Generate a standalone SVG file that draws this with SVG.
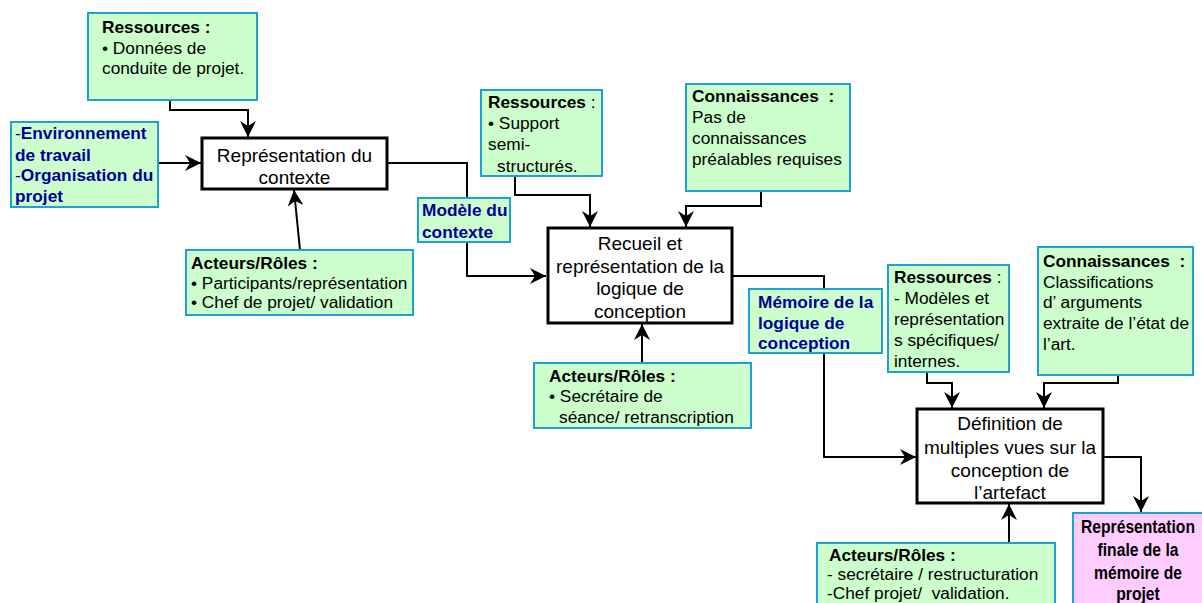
<svg xmlns="http://www.w3.org/2000/svg" width="1202" height="603" viewBox="0 0 1202 603">
  <style>
    .note { fill: #ccffcc; stroke: #1f9fd2; stroke-width: 2; }
    .pink { fill: #ffccff; stroke: #1f9fd2; stroke-width: 2; }
    .proc { fill: #ffffff; stroke: #000000; stroke-width: 3; }
    .t { font-family: "Liberation Sans", Arial, sans-serif; font-size: 17.3px; fill: #000000; }
    .p { font-family: "Liberation Sans", Arial, sans-serif; font-size: 19px; fill: #000000; text-anchor: middle; }
    .b { font-weight: bold; }
    .blue { fill: #000099; }
    .narrow { font-family: "Liberation Sans", Arial, sans-serif; font-size: 18px; font-weight: bold; text-anchor: middle; fill: #000000; }
    .link { fill: none; stroke: #000000; stroke-width: 2; marker-end: url(#arrow); }
  </style>
  <defs>
    <marker id="arrow" markerUnits="userSpaceOnUse" markerWidth="18" markerHeight="16" refX="16" refY="8" orient="auto">
      <path d="M0,0 L16,8 L0,16 L5,8 z" fill="#000000"/>
    </marker>
  </defs>

  <rect width="1202" height="603" fill="#ffffff"/>

  <!-- connectors (drawn first so boxes sit on top) -->
  <g id="connectors">
    <polyline class="link" points="170,100 170,110 248,110 248,137"/>
    <polyline class="link" points="158,163 201,163"/>
    <polyline class="link" points="300,250 294,190"/>
    <polyline class="link" points="387,163 467,163 467,276 546,276"/>
    <polyline class="link" points="515,176 515,195 590,195 590,227"/>
    <polyline class="link" points="761,191 761,206 686,206 686,227"/>
    <polyline class="link" points="642,363 642,324"/>
    <polyline class="link" points="732,276 824,276 824,457 916,457"/>
    <polyline class="link" points="927,372 927,383 952,383 952,408"/>
    <polyline class="link" points="1118,375 1118,383 1044,383 1044,408"/>
    <polyline class="link" points="1009,543 1009,504"/>
    <polyline class="link" points="1103,457 1141,457 1141,512"/>
  </g>

  <g id="ressources-1">
    <rect class="note" x="88" y="13" width="169" height="87"/>
    <text class="t" x="102" y="33"><tspan class="b">Ressources :</tspan></text>
    <text class="t" x="102" y="54">• Données de</text>
    <text class="t" x="102" y="74">conduite de projet.</text>
  </g>

  <g id="environnement">
    <rect class="note" x="11" y="122" width="147" height="85"/>
    <text class="t blue" x="15" y="139">-<tspan class="b">Environnement</tspan></text>
    <text class="t blue b" x="15" y="161">de travail</text>
    <text class="t blue" x="15" y="181">-<tspan class="b">Organisation du</tspan></text>
    <text class="t blue b" x="15" y="202">projet</text>
  </g>

  <g id="representation-contexte">
    <rect class="proc" x="202" y="138" width="185" height="51"/>
    <text class="p" x="294.5" y="162">Représentation du</text>
    <text class="p" x="294.5" y="184">contexte</text>
  </g>

  <g id="acteurs-1">
    <rect class="note" x="186" y="250" width="227" height="65"/>
    <text class="t b" x="191" y="269">Acteurs/Rôles :</text>
    <text class="t" x="191" y="289">• Participants/représentation</text>
    <text class="t" x="191" y="308">• Chef de projet/ validation</text>
  </g>

  <g id="modele-contexte">
    <rect class="note" x="418" y="198" width="92" height="44"/>
    <text class="t blue b" x="422" y="216">Modèle du</text>
    <text class="t blue b" x="422" y="238">contexte</text>
  </g>

  <g id="ressources-2">
    <rect class="note" x="481" y="90" width="121" height="86"/>
    <text class="t" x="488" y="108"><tspan class="b">Ressources</tspan> :</text>
    <text class="t" x="488" y="129">• Support</text>
    <text class="t" x="488" y="150">semi-</text>
    <text class="t" x="497" y="172">structurés.</text>
  </g>

  <g id="connaissances-1">
    <rect class="note" x="686" y="84" width="164" height="107"/>
    <text class="t b" x="692" y="102" xml:space="preserve">Connaissances  :</text>
    <text class="t" x="692" y="123">Pas de</text>
    <text class="t" x="692" y="144">connaissances</text>
    <text class="t" x="692" y="165">préalables requises</text>
  </g>

  <g id="recueil">
    <rect class="proc" x="548" y="228" width="184" height="95"/>
    <text class="p" x="640" y="250">Recueil et</text>
    <text class="p" x="640" y="273">représentation de la</text>
    <text class="p" x="640" y="295">logique de</text>
    <text class="p" x="640" y="318">conception</text>
  </g>

  <g id="acteurs-2">
    <rect class="note" x="534" y="363" width="217" height="65"/>
    <text class="t b" x="549" y="382">Acteurs/Rôles :</text>
    <text class="t" x="549" y="402">• Secrétaire de</text>
    <text class="t" x="559" y="423">séance/ retranscription</text>
  </g>

  <g id="memoire-logique">
    <rect class="note" x="749" y="289" width="133" height="64"/>
    <text class="t blue b" x="758" y="308">Mémoire de la</text>
    <text class="t blue b" x="758" y="329">logique de</text>
    <text class="t blue b" x="758" y="349">conception</text>
  </g>

  <g id="ressources-3">
    <rect class="note" x="888" y="265" width="121" height="107"/>
    <text class="t" x="894" y="283"><tspan class="b">Ressources</tspan> :</text>
    <text class="t" x="894" y="304">- Modèles et</text>
    <text class="t" x="894" y="325">représentation</text>
    <text class="t" x="894" y="346">s spécifiques/</text>
    <text class="t" x="894" y="367">internes.</text>
  </g>

  <g id="connaissances-2">
    <rect class="note" x="1038" y="247" width="155" height="128"/>
    <text class="t b" x="1043" y="267" xml:space="preserve">Connaissances  :</text>
    <text class="t" x="1043" y="288">Classifications</text>
    <text class="t" x="1043" y="308">d’ arguments</text>
    <text class="t" x="1043" y="329">extraite de l’état de</text>
    <text class="t" x="1043" y="350">l’art.</text>
  </g>

  <g id="definition">
    <rect class="proc" x="917" y="409" width="186" height="94"/>
    <text class="p" x="1010" y="430">Définition de</text>
    <text class="p" x="1010" y="454">multiples vues sur la</text>
    <text class="p" x="1010" y="477">conception de</text>
    <text class="p" x="1010" y="499">l’artefact</text>
  </g>

  <g id="acteurs-3">
    <rect class="note" x="817" y="543" width="238" height="70"/>
    <text class="t b" x="829" y="561">Acteurs/Rôles :</text>
    <text class="t" x="827" y="580">- secrétaire / restructuration</text>
    <text class="t" x="827" y="599" xml:space="preserve">-Chef projet/  validation.</text>
  </g>

  <g id="representation-finale">
    <rect class="pink" x="1073" y="513" width="140" height="100"/>
    <!-- condensed bold label -->
    <g transform="translate(1138,0) scale(0.87,1)">
      <text class="narrow" x="0" y="533">Représentation</text>
      <text class="narrow" x="0" y="556">finale de la</text>
      <text class="narrow" x="0" y="579">mémoire de</text>
      <text class="narrow" x="0" y="600">projet</text>
    </g>
  </g>
</svg>
